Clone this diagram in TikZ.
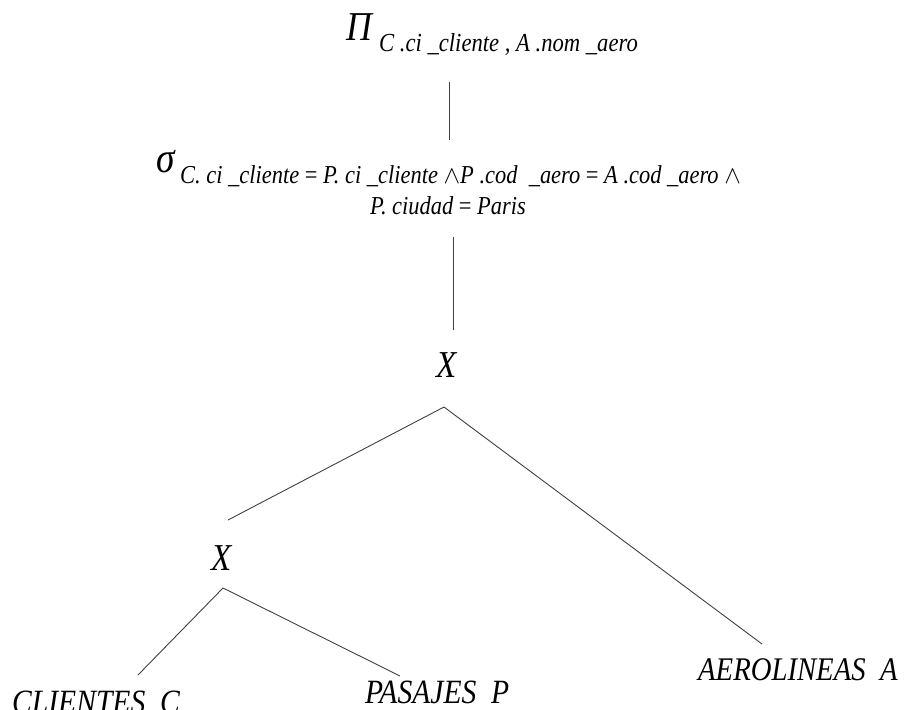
\documentclass[tikz,border=0pt]{standalone}
\usepackage{fontspec}
\newfontfamily\lab{Liberation Serif}[FakeStretch=0.87]
\newcommand\fs[1]{\fontsize{#1}{#1}\selectfont}
\begin{document}
\begin{tikzpicture}[x=1pt,y=-1pt,
  txt/.style={inner sep=0pt,anchor=base west,font=\lab\itshape},
  edge/.style={draw=black!75,line width=0.9pt}]
\useasboundingbox (0,0) rectangle (911,710);
\clip (0,0) rectangle (911,710);
% projection
\node[txt,font=\lab\itshape\fs{41}] (pi) at (346,40) {Π};
\node[txt,font=\lab\itshape\fs{26}] (pisub) at (379,51) {C .ci \_cliente , A .nom \_aero};
% selection
\node[txt,font=\lab\itshape\fs{43}] (sigma) at (156,172) {σ};
\node[txt,font=\lab\itshape\fs{25.8}] (sigsub) at (180,183) {C. ci \_cliente {\upshape=} P. ci \_cliente \ensuremath{\wedge}P .cod \ \_aero {\upshape=} A .cod \_aero \ensuremath{\wedge}};
\node[txt,font=\lab\itshape\fs{25.8}] (sigsub2) at (370,214) {P. ciudad {\upshape=} Paris};
% products
\node[txt,font=\lab\itshape\fs{38}] (x1) at (436,377) {X};
\node[txt,font=\lab\itshape\fs{38}] (x2) at (211,570) {X};
% relations
\node[txt,font=\lab\itshape\fs{34}] (cli) at (12,713) {CLIENTES \ C};
\node[txt,font=\lab\itshape\fs{34}] (pas) at (365,703) {PASAJES \ P};
\node[txt,font=\lab\itshape\fs{33}] (aer) at (698,680) {AEROLINEAS \ A};
% connector ends
\coordinate (piB) at (449,82);
\coordinate (sgT) at (449,140);
\coordinate (sgB) at (453,237);
\coordinate (x1T) at (453,330);
\coordinate (x1B) at (444,407);
\coordinate (x2T) at (228,520);
\coordinate (aerT) at (762,644);
\coordinate (x2B) at (223,588);
\coordinate (cliT) at (138,675);
\coordinate (pasT) at (400,676);
\draw[edge] (piB) -- (sgT);
\draw[edge] (sgB) -- (x1T);
\draw[edge] (x2T) -- (x1B) -- (aerT);
\draw[edge] (cliT) -- (x2B) -- (pasT);
\end{tikzpicture}
\end{document}
